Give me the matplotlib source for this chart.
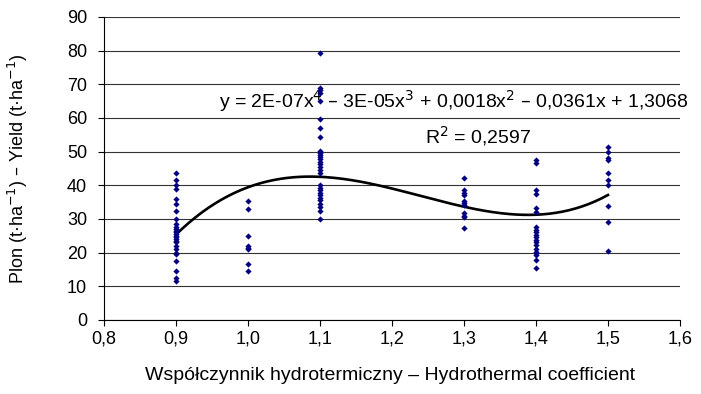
import numpy as np
import matplotlib
matplotlib.use('Agg')
import matplotlib.pyplot as plt
from matplotlib.ticker import FuncFormatter, MultipleLocator

plt.rcParams['font.family'] = ['Liberation Sans', 'DejaVu Sans']

# hydrothermal coefficient groups and yields
x_09 = [43.5, 41.5, 40, 39, 36, 34.5, 32.5, 30, 28.5, 27.5, 27, 26.5, 26, 25.5, 25, 24.5,
        24, 23.5, 23, 22, 21, 20, 19.5, 17.5, 14.5, 12.5, 11.5]
x_10 = [35.2, 33.0, 24.8, 22.0, 21.5, 21.0, 16.5, 14.5]
x_11 = [79.3, 68.8, 68.2, 67.5, 65, 59.7, 57, 54.2, 50.2, 49.5, 49, 48.5, 47.8, 47, 46.2,
        45.5, 44.5, 43.5, 40, 39.2, 38.5, 37.8, 37, 36.2, 35.5, 34.5, 33.5, 32.5, 30]
x_13 = [42.2, 38.5, 37.8, 37.2, 35.2, 34.7, 34.2, 31.7, 31, 30.5, 27.2]
x_14 = [47.5, 46.5, 38.5, 37.5, 33.2, 32.2, 27.5, 26.8, 26, 25.2, 24.5, 23.8, 23, 22.2,
        21, 20.3, 20, 19.2, 17.8, 15.4]
x_15 = [51.5, 50, 48, 47.5, 43.5, 41.5, 40.2, 33.8, 29.2, 20.5]

groups = [0.9, 1.0, 1.1, 1.3, 1.4, 1.5]
yields = [x_09, x_10, x_11, x_13, x_14, x_15]

# trend line (spreadsheet polynomial trendline)
trend_x = [0.9, 0.95, 1.0, 1.05, 1.08, 1.1, 1.15, 1.2, 1.25, 1.3, 1.35, 1.38, 1.4, 1.45, 1.5]
trend_y = [25.5, 33.5, 39.5, 42.2, 42.7, 42.5, 41.3, 39, 36.2, 33.6, 31.7, 31.2, 31.3, 33, 37]

xs = np.concatenate([[g] * len(v) for g, v in zip(groups, yields)])
ys = np.concatenate(yields)

fig = plt.figure(figsize=(7.01, 3.94), dpi=100)
ax = fig.add_axes([0.148, 0.188, 0.822, 0.769])

ax.scatter(xs, ys, marker='D', s=10, color='#000080', linewidths=0, zorder=6)

coef = np.polyfit(trend_x, trend_y, 4)
xt = np.linspace(0.9, 1.5, 200)
ax.plot(xt, np.polyval(coef, xt), color='black', lw=1.9, zorder=4)

ax.set_xlim(0.8, 1.6)
ax.set_ylim(0, 90)
ax.xaxis.set_major_locator(MultipleLocator(0.1))
ax.yaxis.set_major_locator(MultipleLocator(10))
ax.xaxis.set_major_formatter(FuncFormatter(lambda v, p: f'{v:.1f}'.replace('.', ',')))
ax.yaxis.set_major_formatter(FuncFormatter(lambda v, p: f'{v:.0f}'))
ax.grid(axis='y', color='#333333', lw=0.8)
ax.set_axisbelow(True)
for s in ['top', 'right']:
    ax.spines[s].set_visible(False)
ax.tick_params(labelsize=13, length=4, width=0.8)
ax.tick_params(axis='y', pad=8)

ax.text(1.285, 65, 'y = 2E-07x$^4$ – 3E-05x$^3$ + 0,0018x$^2$ – 0,0361x + 1,3068',
        ha='center', va='center', fontsize=14, zorder=5,
        bbox=dict(facecolor='white', edgecolor='none', pad=1))
ax.text(1.319, 54.6, 'R$^2$ = 0,2597', ha='center', va='center', fontsize=14, zorder=5,
        bbox=dict(facecolor='white', edgecolor='none', pad=1))

ax.set_ylabel('Plon (t·ha$^{-1}$) – Yield (t·ha$^{-1}$)', fontsize=13)
ax.yaxis.set_label_coords(-0.128, 0.5)
fig.text(0.556, 0.048, 'Współczynnik hydrotermiczny – Hydrothermal coefficient',
         ha='center', va='center', fontsize=14)

fig.savefig('out.png', dpi=100)
